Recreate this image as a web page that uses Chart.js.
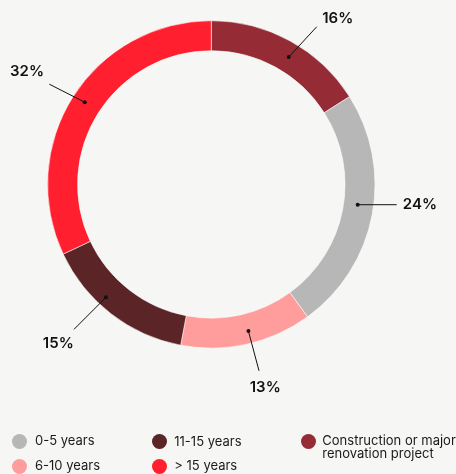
<!DOCTYPE html>
<html>
<head>
<meta charset="utf-8">
<script src="https://cdn.jsdelivr.net/npm/chart.js@4/dist/chart.umd.min.js"></script>
<style>
  html, body { margin: 0; padding: 0; background: #F6F6F4; }
  #wrap { position: relative; width: 456px; height: 474px; overflow: hidden; }
  #c { position: absolute; left: 0; top: 0; }
  .lg { position: absolute; font-family: Inter, "Noto Sans", sans-serif; font-size: 13px; color: #1a1a1a; line-height: 13px; white-space: nowrap; }
  .dot { position: absolute; width: 15px; height: 15px; border-radius: 50%; }
</style>
</head>
<body>
<div id="wrap">
  <canvas id="c" width="456" height="474"></canvas>
</div>
<script>
// ---- data ----
const categories = ["Construction or major renovation project", "0-5 years", "6-10 years", "11-15 years", "> 15 years"];
const values = [16, 24, 13, 15, 32];
const valueLabels = ["16%", "24%", "13%", "15%", "32%"];
const colors = ["#952C35", "#B7B7B7", "#FF9C9C", "#5B2427", "#FF1F2E"];

// legend layout (style): order and slots
const legendOrder = [1, 2, 3, 4, 0];
const legendSlots = [
  { cx: 19,    cy: 441,   tx: 35 },
  { cx: 19,    cy: 466.3, tx: 35 },
  { cx: 159,   cy: 441.5, tx: 174.3 },
  { cx: 159,   cy: 466.3, tx: 174.3 },
  { cx: 308.5, cy: 441,   tx: 322.3 }
];

// callout styling: angle shift (deg), radial shift (px), line end offset, label center offset (relative to dot)
const callouts = [
  { shift: 2.5,  dr: 0.3,  lx: 28,   ly: -30.3, tx: 49,    ty: -38.7 },
  { shift: -2.9, dr: -0.9, lx: 39,   ly: 0,     tx: 62.2,  ty: -0.4 },
  { shift: -1.6, dr: 2.6,  lx: 10.6, ly: 39.7,  tx: 16.8,  ty: 56.7 },
  { shift: 5.2,  dr: 5.7,  lx: -32,  ly: 32,    tx: -47.7, ty: 46 },
  { shift: 0.6,  dr: 2.2,  lx: -35.4,ly: -18,   tx: -57.7, ty: -30.3 }
];

const calloutPlugin = {
  id: 'callouts',
  afterDatasetsDraw(chart) {
    const ctx = chart.ctx;
    const meta = chart.getDatasetMeta(0);
    ctx.save();
    meta.data.forEach((arc, i) => {
      const p = arc.getProps(['x','y','startAngle','endAngle','innerRadius','outerRadius'], true);
      const c = callouts[i];
      const a = (p.startAngle + p.endAngle) / 2 + c.shift * Math.PI / 180;
      const r = (p.innerRadius + p.outerRadius) / 2 + c.dr;
      const dx = p.x + Math.cos(a) * r;
      const dy = p.y + Math.sin(a) * r;
      ctx.strokeStyle = '#111';
      ctx.lineWidth = 1;
      ctx.beginPath();
      ctx.moveTo(dx, dy);
      ctx.lineTo(dx + c.lx, dy + c.ly);
      ctx.stroke();
      ctx.fillStyle = '#111';
      ctx.beginPath();
      ctx.arc(dx, dy, 2, 0, Math.PI * 2);
      ctx.fill();
      ctx.font = '600 15px Inter, "Noto Sans", sans-serif';
      ctx.textAlign = 'center';
      ctx.textBaseline = 'middle';
      ctx.fillText(valueLabels[i], dx + c.tx, dy + c.ty);
    });
    ctx.restore();
  }
};

new Chart(document.getElementById('c'), {
  type: 'doughnut',
  data: {
    labels: categories,
    datasets: [{
      data: values,
      backgroundColor: colors,
      borderColor: 'rgba(255,255,255,0.55)',
      borderWidth: 1,
      hoverOffset: 0
    }]
  },
  options: {
    responsive: false,
    animation: false,
    radius: 163.7,
    cutout: '81.7%',
    layout: { padding: { left: 0, right: 33.4, top: 0, bottom: 105.2 } },
    plugins: { legend: { display: false }, tooltip: { enabled: false } }
  },
  plugins: [calloutPlugin]
});

// HTML legend
const wrap = document.getElementById('wrap');
legendOrder.forEach((idx, k) => {
  const s = legendSlots[k];
  const d = document.createElement('div');
  d.className = 'dot';
  d.style.left = (s.cx - 7.5) + 'px';
  d.style.top = (s.cy - 7.5) + 'px';
  d.style.background = colors[idx];
  wrap.appendChild(d);
  const t = document.createElement('div');
  t.className = 'lg';
  t.style.left = s.tx + 'px';
  t.style.top = (s.cy - 7) + 'px';
  if (idx === 0) {
    t.innerHTML = 'Construction or major<br>renovation project';
  } else {
    t.textContent = categories[idx];
  }
  wrap.appendChild(t);
});
</script>
</body>
</html>
